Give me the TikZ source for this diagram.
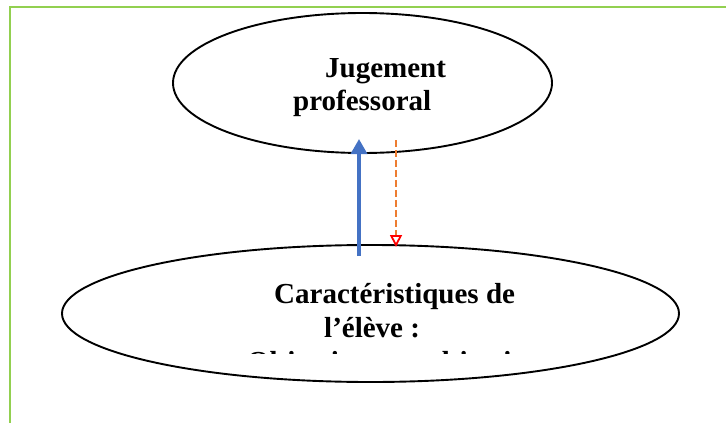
\documentclass[tikz,border=0pt]{standalone}
\usepackage{fontspec}
\setmainfont{Liberation Serif}
\usetikzlibrary{shapes.geometric,arrows.meta,calc}
\definecolor{framegreen}{HTML}{92D050}
\definecolor{arrowblue}{HTML}{4472C4}
\definecolor{dashorange}{HTML}{ED7D31}
\begin{document}
\begin{tikzpicture}[x=1pt,y=-1pt,
  oval/.style={draw=black,line width=1.9pt,ellipse,inner sep=0pt},
  lbl/.style={anchor=base west,inner sep=0pt,font=\fontsize{29}{34}\selectfont\bfseries},
  uparrow/.style={draw=arrowblue,line width=3.5pt,-{Triangle[length=15pt,width=16pt]}},
  downarrow/.style={draw=dashorange,line width=1.5pt,dash pattern=on 6.5pt off 3.5pt,
    -{Triangle[open,length=12pt,width=12pt,color=red,line width=1.8pt]}}]
\useasboundingbox (0,0) rectangle (726,423);
\draw[framegreen,line width=2.2pt] (10,423) -- (10,7) -- (726,7);
\node[oval,minimum width=379pt,minimum height=140pt] (jp) at (362.5,83) {};
\node[oval,minimum width=617pt,minimum height=137pt] (car) at (370.5,313.5) {};
\node[lbl] (t1) at (325,77) {Jugement};
\node[lbl] (t2) at (293,110) {professoral};
\node[lbl] (t3) at (274,303) {Caractéristiques de};
\node[lbl] (t4) at (324,337) {l’élève :};
\begin{scope}
\clip (200,350.3) rectangle (600,353.2);
\node[lbl] (t5) at (247,371) {Objectives et subjectives};
\end{scope}
\coordinate (bs) at ($(car.center)+(-11.5,-57.5)$);
\coordinate (be) at ($(jp.center)+(-3.5,56)$);
\coordinate (os) at ($(jp.center)+(33.5,57)$);
\coordinate (oe) at ($(car.center)+(25.5,-66.5)$);
\draw[uparrow] (bs) -- (be);
\draw[downarrow] (os) -- (oe);
\end{tikzpicture}
\end{document}
